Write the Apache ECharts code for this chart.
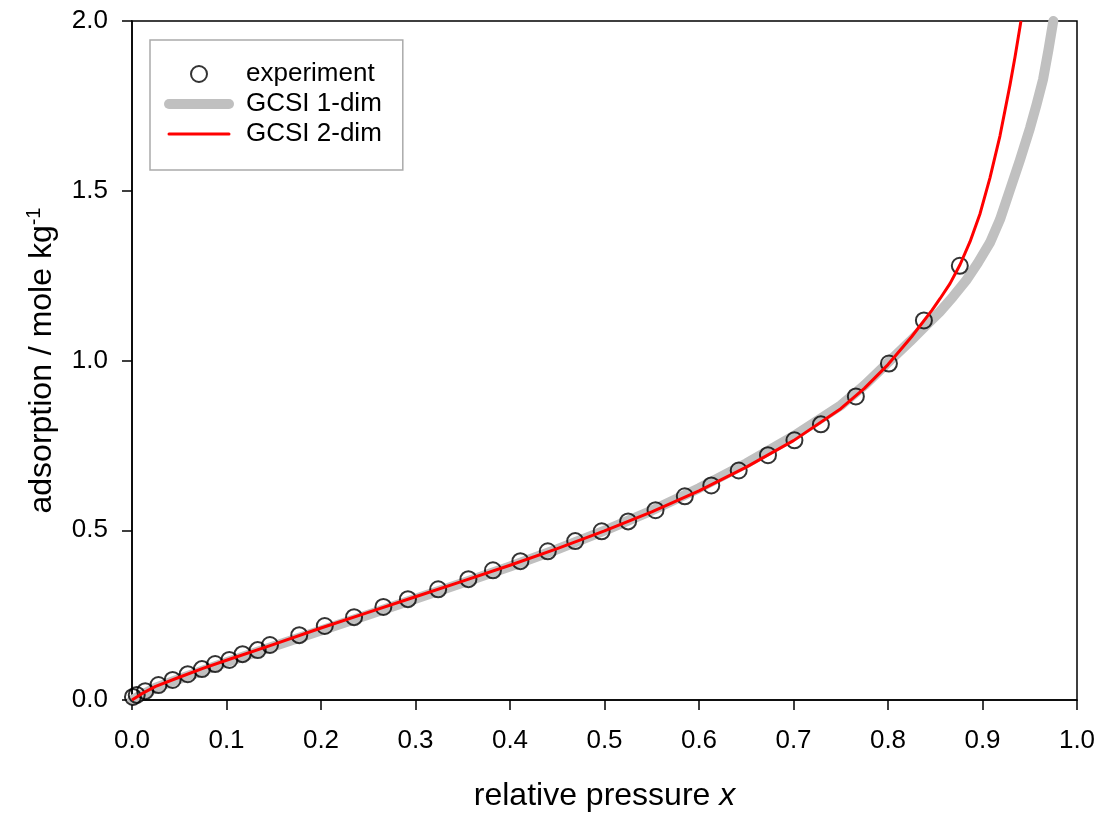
<!DOCTYPE html>
<html>
<head>
<meta charset="utf-8">
<script src="https://cdn.jsdelivr.net/npm/echarts@6/dist/echarts.min.js"></script>
<style>
html,body{margin:0;padding:0;background:#fff;}
#chart{width:1102px;height:817px;}
</style>
</head>
<body>
<div id="chart"></div>
<script>
// experimental points [relative pressure, adsorption]
const experiment = [
  [0.001,0.009],[0.005,0.015],[0.014,0.026],[0.028,0.044],[0.043,0.059],[0.059,0.076],
  [0.074,0.091],[0.088,0.106],[0.103,0.118],[0.117,0.135],[0.133,0.147],[0.146,0.162],
  [0.177,0.191],[0.204,0.218],[0.235,0.244],[0.266,0.274],[0.292,0.297],[0.324,0.326],
  [0.356,0.356],[0.382,0.382],[0.411,0.409],[0.440,0.438],[0.469,0.468],[0.497,0.497],
  [0.525,0.526],[0.554,0.559],[0.585,0.600],[0.613,0.632],[0.642,0.676],[0.673,0.721],
  [0.701,0.765],[0.729,0.812],[0.766,0.894],[0.801,0.991],[0.838,1.118],[0.876,1.279]
];
// GCSI 1-dim model curve
const gcsi1 = [
  [0,0],[0.025,0.036],[0.05,0.062],[0.1,0.111],[0.15,0.158],[0.2,0.205],[0.25,0.251],[0.3,0.298],
  [0.35,0.345],[0.4,0.393],[0.45,0.444],[0.5,0.499],[0.55,0.558],[0.6,0.624],[0.65,0.697],
  [0.7,0.777],[0.75,0.868],[0.775,0.927],[0.8011,0.997],[0.8233,1.056],[0.8423,1.109],
  [0.855,1.144],[0.8688,1.188],[0.8825,1.235],[0.8952,1.288],[0.9079,1.347],[0.9185,1.415],
  [0.9291,1.503],[0.9397,1.591],[0.9503,1.685],[0.9571,1.753],[0.964,1.827],[0.9698,1.915],[0.9749,2.0]
];
// GCSI 2-dim model curve
const gcsi2 = [
  [0,0],[0.01,0.018],[0.025,0.040],[0.05,0.067],[0.075,0.093],[0.1,0.117],[0.15,0.164],
  [0.2,0.212],[0.25,0.258],[0.3,0.304],[0.35,0.350],[0.4,0.397],[0.45,0.446],[0.5,0.498],
  [0.55,0.554],[0.6,0.616],[0.65,0.686],[0.7,0.764],[0.75,0.858],[0.775,0.918],[0.8,0.988],
  [0.825,1.070],[0.8466,1.1485],[0.855,1.182],[0.8656,1.2265],[0.8762,1.282],[0.8868,1.35],
  [0.8974,1.4324],[0.9079,1.5382],[0.9185,1.6618],[0.9238,1.7368],[0.9291,1.8118],[0.9344,1.8941],[0.9407,2.0]
];
const xTicks = [0,0.1,0.2,0.3,0.4,0.5,0.6,0.7,0.8,0.9,1.0];
const yTicks = [0,0.5,1.0,1.5,2.0];

const FONT = '"Liberation Sans", Arial, sans-serif';
const chart = echarts.init(document.getElementById('chart'), null, {renderer:'canvas'});
chart.setOption({
  animation:false,
  backgroundColor:'#fff',
  grid:{left:132,right:25,top:21,bottom:116,show:true,borderColor:'#000',borderWidth:1.5,backgroundColor:'transparent'},
  xAxis:{
    type:'value',min:xTicks[0],max:xTicks[xTicks.length-1],interval:0.1,
    name:'relative pressure {i|x}',nameLocation:'middle',nameGap:80,
    nameTextStyle:{fontFamily:FONT,fontSize:32,color:'#000',rich:{i:{fontFamily:FONT,fontSize:32,fontStyle:'italic',color:'#000'}}},
    axisLine:{show:true,lineStyle:{color:'#000',width:1.5}},
    axisTick:{show:true,inside:false,length:10,lineStyle:{color:'#000',width:1.5}},
    axisLabel:{fontFamily:FONT,fontSize:26,color:'#000',margin:28,formatter:v=>v.toFixed(1)},
    splitLine:{show:false}
  },
  yAxis:{
    type:'value',min:yTicks[0],max:yTicks[yTicks.length-1],interval:0.5,
    name:'adsorption / mole kg{s|-1}',nameLocation:'middle',nameGap:72,nameRotate:90,
    nameTextStyle:{fontFamily:FONT,fontSize:32,color:'#000',rich:{s:{fontFamily:FONT,fontSize:20,color:'#000',verticalAlign:'top',padding:[0,0,16,0]}}},
    axisLine:{show:true,lineStyle:{color:'#000',width:1.5}},
    axisTick:{show:true,inside:false,length:10,lineStyle:{color:'#000',width:1.5}},
    axisLabel:{fontFamily:FONT,fontSize:26,color:'#000',margin:24,formatter:v=>v.toFixed(1)},
    splitLine:{show:false}
  },
  legend:{
    orient:'vertical',left:150,top:40,
    padding:[21,21,23,14],
    itemWidth:60,itemHeight:16,itemGap:4,
    borderColor:'#aaaaaa',borderWidth:1.5,backgroundColor:'#fff',
    textStyle:{fontFamily:FONT,fontSize:26,color:'#000',lineHeight:26,padding:[0,0,0,12]},
    data:[
      {name:'experiment',icon:'circle'},
      {name:'GCSI 1-dim',itemStyle:{color:'rgba(0,0,0,0)',borderColor:'rgba(0,0,0,0)',borderWidth:0},
       lineStyle:{color:'#c0c0c0',width:10,cap:'round'}},
      {name:'GCSI 2-dim',itemStyle:{color:'rgba(0,0,0,0)',borderColor:'rgba(0,0,0,0)',borderWidth:0},
       lineStyle:{color:'#ff0000',width:3,cap:'round'}}
    ]
  },
  series:[
    {name:'GCSI 1-dim',type:'line',data:gcsi1,symbol:'none',smooth:false,
     lineStyle:{color:'#c0c0c0',width:10,cap:'round',join:'round'},itemStyle:{color:'#c0c0c0'},z:1},
    {name:'experiment',type:'scatter',data:experiment,symbol:'circle',symbolSize:16,
     itemStyle:{color:'rgba(0,0,0,0)',borderColor:'#000',borderWidth:2},z:2},
    {name:'GCSI 2-dim',type:'line',data:gcsi2,symbol:'none',smooth:false,
     lineStyle:{color:'#ff0000',width:3,join:'round'},itemStyle:{color:'#ff0000'},z:3}
  ]
});
</script>
</body>
</html>
